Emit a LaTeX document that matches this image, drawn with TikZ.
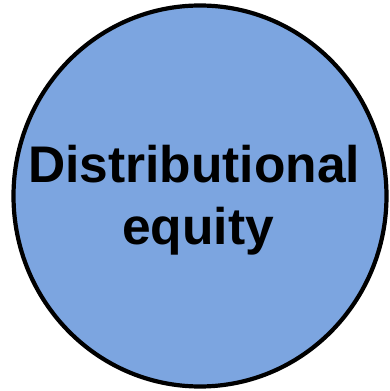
\documentclass[tikz,border=0pt]{standalone}
\usepackage{fontspec}
\usetikzlibrary{shapes.geometric}
\setmainfont{Liberation Sans}
\definecolor{circfill}{RGB}{124,165,224}
\begin{document}
\begin{tikzpicture}[x=1pt,y=1pt,
  lbl/.style={font=\fontsize{51.5}{62}\selectfont\bfseries, text=black, inner sep=0pt}]
\useasboundingbox (0,0) rectangle (390,391);
\node[draw=black, line width=4.2pt, fill=circfill, ellipse, minimum width=373pt, minimum height=381pt, inner sep=0pt] (c) at (200,195) {};
\node[lbl, anchor=base] (l1) at (194,208) {Distributional};
\node[lbl, anchor=base] (l2) at (198,146) {equity};
\end{tikzpicture}
\end{document}
